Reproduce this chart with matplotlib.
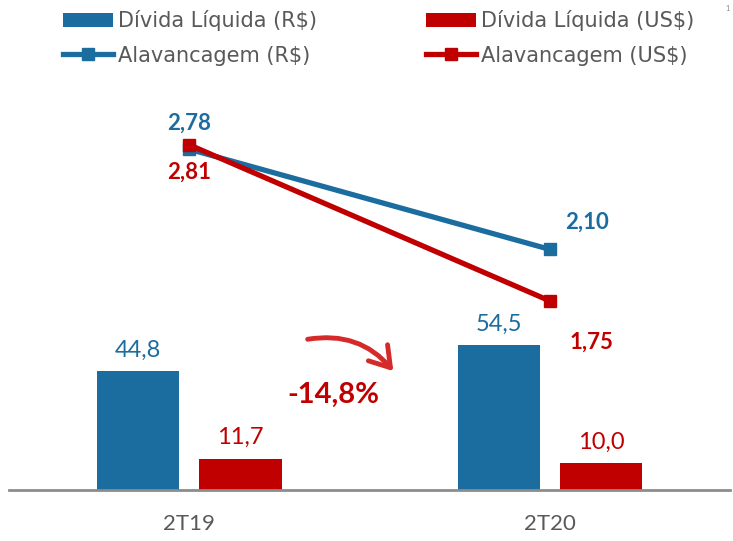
import matplotlib
matplotlib.use("Agg")
import matplotlib.pyplot as plt
from matplotlib.patches import FancyArrowPatch
import numpy as np

categories = ["2T19", "2T20"]
divida_brl = [44.8, 54.5]
divida_usd = [11.7, 10.0]
alav_brl = [2.78, 2.10]
alav_usd = [2.81, 1.75]
divida_brl_labels = ["44,8", "54,5"]
divida_usd_labels = ["11,7", "10,0"]
alav_brl_labels = ["2,78", "2,10"]
alav_usd_labels = ["2,81", "1,75"]
variation_label = "-14,8%"

BLUE = "#1B6C9F"
RED = "#C00000"
GREY = "#595959"

plt.rcParams['font.family'] = ['Lato', 'DejaVu Sans']

fig = plt.figure(figsize=(7.33, 5.41), dpi=100)
ax = fig.add_axes([0.0123, 0.0943, 0.9837, 0.758])
ax2 = ax.twinx()

x = np.arange(len(categories))
w = 0.228
off = 0.142
b1 = ax.bar(x - off, divida_brl, w, color=BLUE, label="Dívida Líquida (R$)", zorder=2)
b2 = ax.bar(x + off, divida_usd, w, color=RED, label="Dívida Líquida (US$)", zorder=2)
ax.set_xlim(-0.5, 1.5)
ax.set_ylim(0, 154.4)

for xi, v, lab in zip(x - off, divida_brl, divida_brl_labels):
    ax.text(xi, v + 4, lab, ha="center", va="bottom", color=BLUE, fontsize=17)
for xi, v, lab in zip(x + off, divida_usd, divida_usd_labels):
    ax.text(xi, v + 4, lab, ha="center", va="bottom", color=RED, fontsize=17)

l1, = ax2.plot(x, alav_brl, color=BLUE, lw=3.8, marker="s", markersize=9, label="Alavancagem (R$)", zorder=3)
l2, = ax2.plot(x, alav_usd, color=RED, lw=3.8, marker="s", markersize=9, label="Alavancagem (US$)", zorder=4)
ax2.set_ylim(0.466, 3.251)

# line labels
ax2.annotate(alav_brl_labels[0], (x[0], alav_brl[0]), xytext=(0, 11), textcoords="offset points",
             ha="center", va="bottom", color=BLUE, fontsize=16, fontweight="bold")
ax2.annotate(alav_usd_labels[0], (x[0], alav_usd[0]), xytext=(0, -12), textcoords="offset points",
             ha="center", va="top", color=RED, fontsize=16, fontweight="bold")
ax2.annotate(alav_brl_labels[1], (x[1], alav_brl[1]), xytext=(27, 12), textcoords="offset points",
             ha="center", va="bottom", color=BLUE, fontsize=16, fontweight="bold")
ax2.annotate(alav_usd_labels[1], (x[1], alav_usd[1]), xytext=(30, -22), textcoords="offset points",
             ha="center", va="top", color=RED, fontsize=16, fontweight="bold")

for a in (ax, ax2):
    for s in ["top", "right", "left"]:
        a.spines[s].set_visible(False)
    a.set_yticks([])
ax2.spines["bottom"].set_visible(False)
ax.spines["bottom"].set_color("#8C8C8C")
ax.spines["bottom"].set_linewidth(2)
ax.set_xticks(x)
ax.set_xticklabels(categories, fontsize=16, color=GREY)
ax.tick_params(axis="x", length=0, pad=17)

# arrow and variation
arrow = FancyArrowPatch((0.416, 0.372), (0.539, 0.31), transform=fig.transFigure,
                        connectionstyle="arc3,rad=-0.3",
                        arrowstyle="->,head_length=0.7,head_width=0.45",
                        color="#D42A2A", lw=3.5, mutation_scale=20, capstyle="round")
fig.patches.append(arrow)
fig.text(0.455, 0.27, variation_label, ha="center", va="center", color=RED,
         fontsize=21, fontweight="bold")

fig.text(0.995, 0.99, "1", ha="right", va="top", color="#808080", fontsize=5)

fig.legend(handles=[b1, l1, b2, l2], loc="upper left", bbox_to_anchor=(63 / 733, 1 - 10 / 541),
           ncol=2, frameon=False, prop={"family": "DejaVu Sans", "size": 15}, labelcolor=GREY,
           handlelength=2.4, handleheight=0.65, handletextpad=0.25, columnspacing=5.2,
           labelspacing=0.7, borderpad=0, borderaxespad=0)

fig.savefig("out.png", dpi=100)
